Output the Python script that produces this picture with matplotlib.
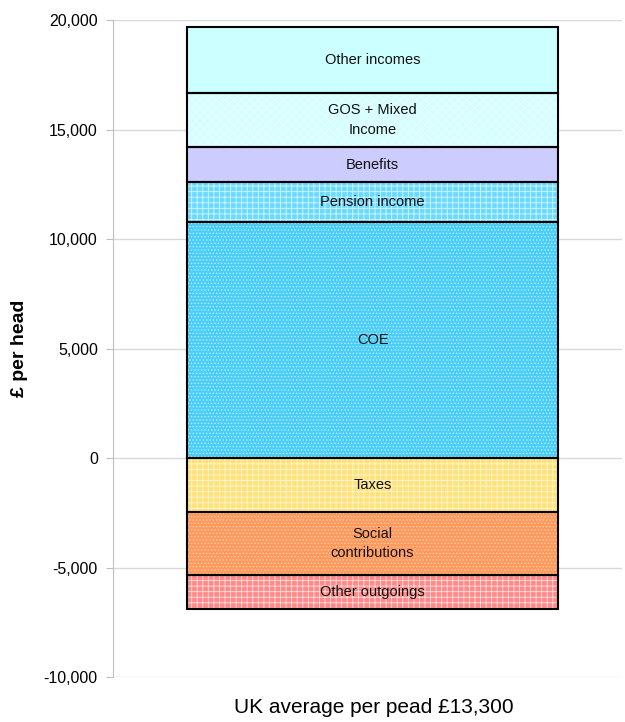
import matplotlib.pyplot as plt
from matplotlib.ticker import FuncFormatter

plt.rcParams['font.family'] = ['Liberation Sans', 'DejaVu Sans']
plt.rcParams['hatch.linewidth'] = 0.6

# income components stacked upwards, outgoings stacked downwards (£ per head)
income_labels = ['COE', 'Pension income', 'Benefits', 'GOS + Mixed\nIncome', 'Other incomes']
income_values = [10800, 1800, 1600, 2480, 3020]
outgoing_labels = ['Taxes', 'Social\ncontributions', 'Other outgoings']
outgoing_values = [-2470, -2870, -1560]
category = 'UK average per pead £13,300'

income_styles = [
    ('#4ACDF8', '#B8ECFF', '.....'),
    ('#6ADAFF', '#D8F6FF', '+++'),
    ('#CCCCFF', None, None),
    ('#D2FFFF', '#F0FFFF', 'xxxx'),
    ('#CCFFFF', None, None),
]
outgoing_styles = [
    ('#FFE27A', '#FFF6D6', '+++'),
    ('#FF9A5C', '#FFCBAE', '.....'),
    ('#FF8A8A', '#FFE0E0', '+++'),
]

fig = plt.figure(figsize=(6.25, 7.22), dpi=100)
ax = fig.add_axes([0.181, 0.0623, 0.814, 0.9097])

bar_w = 0.73
x = 0


def draw_stack(values, labels, styles):
    base = 0
    for val, lab, (face, hcol, hatch) in zip(values, labels, styles):
        ax.bar(x, val, bottom=base, width=bar_w, color=face,
               edgecolor=hcol if hcol else face, hatch=hatch, linewidth=0, zorder=2)
        ax.bar(x, val, bottom=base, width=bar_w, fill=False,
               edgecolor='black', linewidth=1.5, zorder=3)
        ax.text(x, base + val / 2, lab, ha='center', va='center',
                fontsize=10.5, linespacing=1.5, color='#111111', zorder=4)
        base += val


draw_stack(income_values, income_labels, income_styles)
draw_stack(outgoing_values, outgoing_labels, outgoing_styles)

ax.set_xlim(-0.51, 0.49)
ax.set_ylim(-10000, 20000)
ax.set_yticks(range(-10000, 20001, 5000))
ax.yaxis.set_major_formatter(FuncFormatter(lambda v, p: f'{int(v):,}'))
ax.tick_params(axis='y', labelsize=11.5, length=5, color='#BFBFBF', pad=6)
ax.set_xticks([])
ax.grid(axis='y', color='#D9D9D9', linewidth=1, zorder=0)
ax.set_axisbelow(True)

for side in ['top', 'right', 'bottom']:
    ax.spines[side].set_visible(False)
ax.spines['left'].set_color('#BFBFBF')

ax.set_ylabel('£ per head', fontsize=14, fontweight='bold')
ax.yaxis.set_label_coords(-0.167, 0.5)
fig.text(0.598, 0.012, category, ha='center', va='baseline', fontsize=15)

fig.savefig('out.png', dpi=100)
